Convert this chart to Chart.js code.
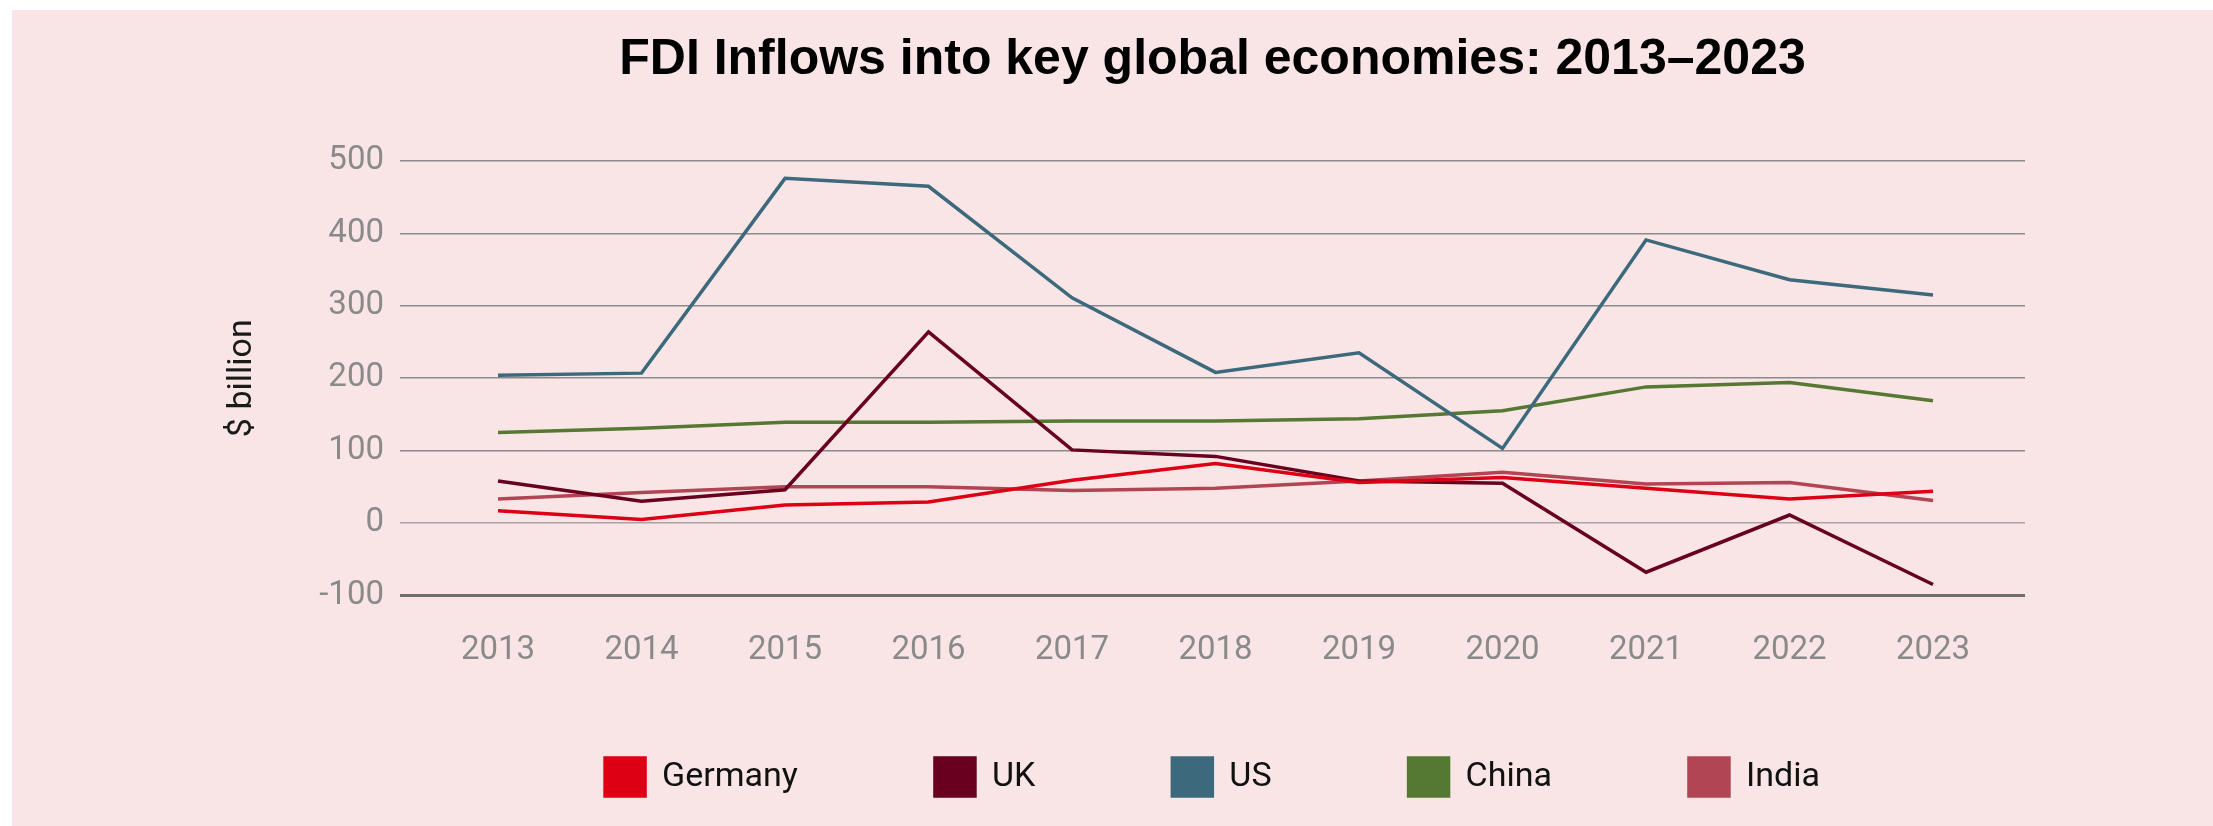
<!DOCTYPE html>
<html>
<head>
<meta charset="utf-8">
<script src="https://cdn.jsdelivr.net/npm/chart.js@4.4.1/dist/chart.umd.min.js"></script>
<style>
  html, body { margin: 0; padding: 0; background: #fff; overflow: hidden; }
  #panel { position: absolute; left: 12px; top: 10px; width: 2201px; height: 816px; background: #fae5e6; }
  #chart { position: absolute; left: 0; top: 0; }
</style>
</head>
<body>
<div id="panel"></div>
<canvas id="chart" width="2213" height="826"></canvas>
<script>
  const years = [2013, 2014, 2015, 2016, 2017, 2018, 2019, 2020, 2021, 2022, 2023];
  const germany = [17, 5, 25, 29, 59, 82, 56, 63, 48, 33, 44];
  const uk = [58, 30, 46, 264, 101, 92, 58, 55, -68, 11, -85];
  const us = [204, 207, 476, 465, 311, 208, 235, 103, 391, 336, 315];
  const china = [125, 131, 139, 139, 141, 141, 144, 155, 188, 194, 169];
  const india = [33, 42, 50, 50, 45, 48, 58, 70, 54, 56, 31];
  const yTicks = [-100, 0, 100, 200, 300, 400, 500];

  const tickFont = { family: "Roboto", size: 33, weight: "400" };

  function series(label, values, color) {
    return {
      label: label,
      data: values.map((v, i) => ({ x: years[i], y: v })),
      borderColor: color,
      backgroundColor: color,
      borderWidth: 3.5,
      pointRadius: 0,
      tension: 0,
    };
  }

  // the legend items sit far apart, so the big padding is only wanted sideways:
  // keep the legend box short and stretch its top back up after layout
  const legendLift = {
    id: "legendLift",
    afterLayout(chart) {
      chart.legend.top -= 86;
    },
  };

  const ctx = document.getElementById("chart").getContext("2d");
  const chart = new Chart(ctx, {
    type: "line",
    data: {
      datasets: [
        series("Germany", germany, "#dd0015"),
        series("UK", uk, "#68001f"),
        series("US", us, "#3c697b"),
        series("China", china, "#557832"),
        series("India", india, "#b24554"),
      ],
    },
    options: {
      responsive: false,
      animation: false,
      events: [],
      layout: {
        padding: { left: 12, right: 188, top: 10, bottom: 0 },
      },
      scales: {
        x: {
          type: "linear",
          min: 2012.317,
          max: 2023.641,
          grid: { display: false, drawTicks: false },
          border: { display: false },
          afterBuildTicks: (scale) => {
            scale.ticks = years.map((y) => ({ value: y }));
          },
          ticks: {
            color: "#8a8a8a",
            font: tickFont,
            padding: 36,
            maxRotation: 0,
            autoSkip: false,
            callback: (v) => String(v),
          },
        },
        y: {
          min: -100,
          max: 500,
          afterBuildTicks: (scale) => {
            scale.ticks = yTicks.map((v) => ({ value: v }));
          },
          afterFit: (scale) => {
            scale.width = 388;
          },
          border: { display: false },
          grid: {
            drawTicks: false,
            color: (c) => (c.tick.value === -100 ? "#6e6e6e" : c.tick.value === 0 ? "#aca2a3" : "#8a8a8a"),
            lineWidth: (c) => (c.tick.value === -100 ? 3 : 1.6),
          },
          ticks: {
            color: "#8a8a8a",
            font: tickFont,
            padding: 16,
          },
          title: {
            display: true,
            text: "$ billion",
            color: "#1a1a1a",
            font: { family: "Roboto", size: 34, weight: "400" },
            padding: { top: 210, bottom: 0 },
          },
        },
      },
      plugins: {
        title: {
          display: true,
          fullSize: false,
          text: "FDI Inflows into key global economies: 2013\u20132023",
          color: "#000",
          font: { family: "Liberation Sans", size: 50, weight: "bold" },
          padding: { top: 20, bottom: 71 },
        },
        legend: {
          position: "bottom",
          fullSize: false,
          maxHeight: 119,
          labels: {
            boxWidth: 40,
            boxHeight: 38,
            padding: 137,
            color: "#111",
            font: { family: "Roboto", size: 34, weight: "400" },
          },
        },
        tooltip: { enabled: false },
      },
    },
    plugins: [legendLift],
  });
</script>
</body>
</html>
